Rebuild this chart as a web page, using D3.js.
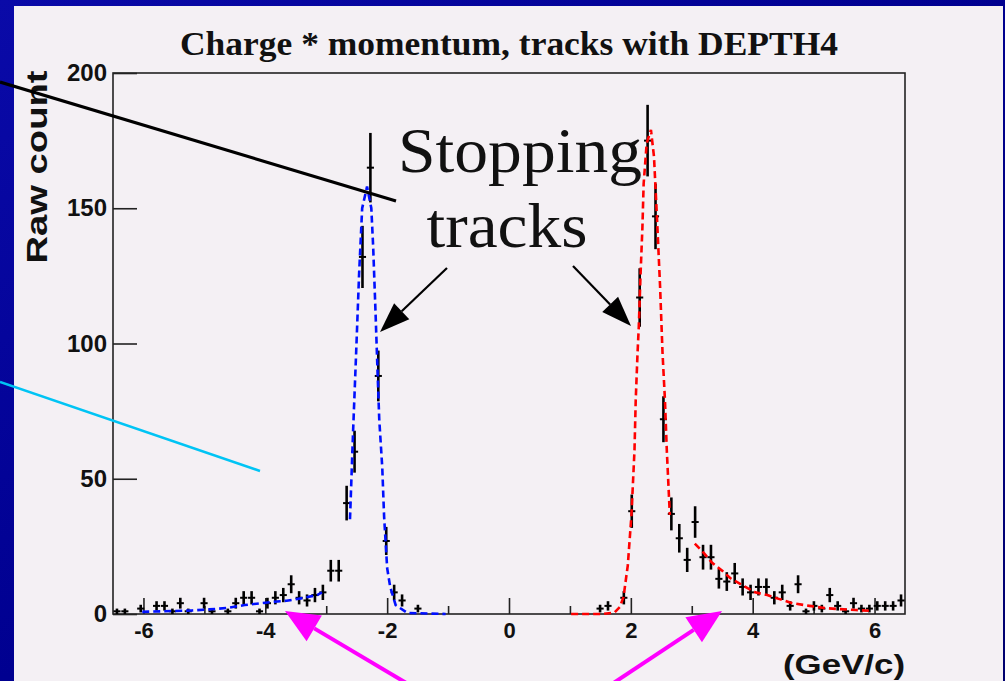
<!DOCTYPE html>
<html lang="en">
  <head>
    <meta charset="UTF-8" />
    <title>Charge * momentum, tracks with DEPTH4</title>
    <script src="https://cdn.jsdelivr.net/npm/d3@7"></script>
    <style>
      body { margin: 0; background: #00008c; }
      svg { display: block; }
      .tick line { stroke: #222; stroke-width: 1.6px; }
      .tick text { font-family: "Liberation Sans", Arial, sans-serif; font-weight: bold; fill: #111; }
      .fit { fill: none; stroke-width: 2.6px; stroke-dasharray: 7 4; }
    </style>
  </head>
  <body>
    <script>
      // histogram: 100 bins from -6.5 to 6.5 GeV/c, raw counts
      var histLo = -6.5,
          binWidth = 0.13;

      var counts = [
        1, 1, 0, 2, 0, 3, 3, 1, 4, 1,
        0, 4, 1, 0, 1, 4, 6, 6, 1, 4,
        6, 7, 11, 6, 5, 7, 8, 16, 16, 41,
        60, 132, 165, 88, 27, 8, 5, 0, 2, 0,
        0, 0, 0, 0, 0, 0, 0, 0, 0, 0,
        0, 0, 0, 0, 0, 0, 0, 0, 0, 0,
        0, 2, 3, 0, 6, 38, 117, 175, 147, 72,
        37, 28, 20, 34, 21, 21, 13, 12, 15, 10,
        8, 10, 10, 6, 8, 3, 11, 1, 3, 2,
        7, 3, 1, 4, 2, 2, 3, 3, 3, 5
      ];

      // fit curves, [momentum, count]
      var blueTail = [[-6.02, 0.8], [-5.2, 1.3], [-4.92, 1.7], [-4.64, 2.2], [-4.34, 3.3], [-4.06, 4.0],
                      [-3.81, 4.6], [-3.65, 4.9], [-3.38, 5.9], [-3.15, 7.0], [-3.07, 8.0]];
      var bluePeak = [[-2.61, 35], [-2.56, 67], [-2.51, 96], [-2.46, 126], [-2.41, 150], [-2.33, 158],
                      [-2.26, 150], [-2.23, 136], [-2.19, 111], [-2.16, 91], [-2.13, 72], [-2.08, 54],
                      [-2.05, 36], [-2.0, 17], [-1.95, 10], [-1.86, 3.3], [-1.67, 0.4], [-1.04, 0]];
      var redPeak = [[1.02, 0], [1.52, 0], [1.73, 0.5], [1.82, 2.6], [1.88, 6.3], [1.95, 18], [2.01, 36.6],
                     [2.06, 60.6], [2.08, 79], [2.11, 96.5], [2.13, 106], [2.16, 126], [2.19, 143], [2.21, 159],
                     [2.26, 174], [2.33, 179], [2.38, 169], [2.43, 146], [2.48, 121], [2.52, 96.5], [2.56, 79],
                     [2.59, 60.6], [2.64, 36.6]];
      var redTail = [[3.05, 26], [3.2, 22.5], [3.33, 19], [3.5, 16], [3.63, 13.3], [3.83, 10.7], [4.04, 8],
                     [4.24, 7], [4.44, 5.5], [4.65, 4], [4.93, 3], [5.18, 2.2], [5.43, 1.8], [5.69, 1.5], [5.97, 1.1]];

      var xMajor = [-6, -4, -2, 0, 2, 4, 6],
          xMinor = [-5, -3, -1, 1, 3, 5],
          yMajor = [0, 50, 100, 150, 200];

      var w = 1005, h = 681;
      var plotLeft = 113, plotRight = 905, plotTop = 73, plotBottom = 614;

      var svg = d3.select("body").append("svg")
        .attr("width", w)
        .attr("height", h);

      // slide background
      var defs = svg.append("defs");
      var grad = defs.append("linearGradient").attr("id", "slide")
        .attr("x1", "0%").attr("y1", "0%").attr("x2", "100%").attr("y2", "100%");
      grad.append("stop").attr("offset", "0%").attr("stop-color", "#0a0aa8");
      grad.append("stop").attr("offset", "50%").attr("stop-color", "#000090");
      grad.append("stop").attr("offset", "100%").attr("stop-color", "#00006e");

      svg.append("rect").attr("width", w).attr("height", h).attr("fill", "url(#slide)");
      svg.append("rect")
        .attr("x", 14).attr("y", 6)
        .attr("width", 989).attr("height", h - 6)
        .attr("fill", "#f4f0f4");

      var xScale = d3.scaleLinear().domain([-6.5, 6.5]).range([plotLeft, plotRight]);
      var yScale = d3.scaleLinear().domain([0, 200]).range([plotBottom, plotTop]);

      // frame
      svg.append("rect")
        .attr("x", plotLeft).attr("y", plotTop)
        .attr("width", plotRight - plotLeft).attr("height", plotBottom - plotTop)
        .attr("fill", "none")
        .attr("stroke", "#222")
        .attr("stroke-width", 1.6);

      // axes
      var xAxis = d3.axisBottom(xScale)
        .tickValues(xMajor)
        .tickSize(-16)
        .tickPadding(8)
        .tickFormat(function(d) { return String(d); });

      var gx = svg.append("g")
        .attr("transform", "translate(0," + plotBottom + ")")
        .call(xAxis);
      gx.select(".domain").remove();
      gx.selectAll("text").style("font-size", "22px");

      var gxMinor = svg.append("g")
        .attr("transform", "translate(0," + plotBottom + ")")
        .call(d3.axisBottom(xScale).tickValues(xMinor).tickSize(-8).tickFormat(""));
      gxMinor.select(".domain").remove();

      var yAxis = d3.axisLeft(yScale)
        .tickValues(yMajor)
        .tickSize(-24)
        .tickPadding(6);

      var gy = svg.append("g")
        .attr("transform", "translate(" + plotLeft + ",0)")
        .call(yAxis);
      gy.select(".domain").remove();
      gy.selectAll("text").style("font-size", "24px");

      // histogram points with sqrt(N) error bars
      var bins = counts.map(function(c, i) {
        return { x: histLo + binWidth * (i + 0.5), c: c };
      }).filter(function(d) { return d.c > 0; });

      var pts = svg.append("g").attr("stroke", "#000");

      pts.selectAll("line.ev")
        .data(bins)
        .enter()
        .append("line")
        .attr("class", "ev")
        .attr("x1", function(d) { return xScale(d.x) })
        .attr("x2", function(d) { return xScale(d.x) })
        .attr("y1", function(d) { return yScale(Math.max(0, d.c - Math.sqrt(d.c))) })
        .attr("y2", function(d) { return yScale(d.c + Math.sqrt(d.c)) })
        .attr("stroke-width", 2.6);

      pts.selectAll("line.eh")
        .data(bins)
        .enter()
        .append("line")
        .attr("class", "eh")
        .attr("x1", function(d) { return xScale(d.x - binWidth * 0.45) })
        .attr("x2", function(d) { return xScale(d.x + binWidth * 0.45) })
        .attr("y1", function(d) { return yScale(d.c) })
        .attr("y2", function(d) { return yScale(d.c) })
        .attr("stroke-width", 2);

      // fits
      var line = d3.line()
        .x(function(d) { return xScale(d[0]) })
        .y(function(d) { return yScale(d[1]) });

      [[blueTail, "#0010ff"], [bluePeak, "#0010ff"], [redPeak, "#ff0000"], [redTail, "#ff0000"]]
        .forEach(function(f) {
          svg.append("path")
            .attr("class", "fit")
            .attr("d", line(f[0]))
            .attr("stroke", f[1]);
        });

      // titles
      svg.append("text")
        .attr("x", 509).attr("y", 55)
        .attr("text-anchor", "middle")
        .attr("textLength", 658)
        .attr("lengthAdjust", "spacingAndGlyphs")
        .style("font-family", "'Liberation Serif', 'Times New Roman', serif")
        .style("font-weight", "bold")
        .style("font-size", "34px")
        .style("fill", "#111")
        .text("Charge * momentum, tracks with DEPTH4");

      svg.append("text")
        .attr("transform", "translate(47,167) rotate(-90)")
        .attr("text-anchor", "middle")
        .attr("textLength", 193)
        .attr("lengthAdjust", "spacingAndGlyphs")
        .style("font-family", "'Liberation Sans', Arial, sans-serif")
        .style("font-weight", "bold")
        .style("font-size", "30px")
        .style("fill", "#111")
        .text("Raw count");

      svg.append("text")
        .attr("x", 905).attr("y", 674)
        .attr("text-anchor", "end")
        .attr("textLength", 122)
        .attr("lengthAdjust", "spacingAndGlyphs")
        .style("font-family", "'Liberation Sans', Arial, sans-serif")
        .style("font-weight", "bold")
        .style("font-size", "28px")
        .style("fill", "#111")
        .text("(GeV/c)");

      // annotations
      svg.append("line")
        .attr("x1", 0).attr("y1", 82).attr("x2", 396).attr("y2", 201)
        .attr("stroke", "#000").attr("stroke-width", 3.2);

      svg.append("line")
        .attr("x1", 0).attr("y1", 382).attr("x2", 260).attr("y2", 471)
        .attr("stroke", "#00c4f4").attr("stroke-width", 2.6);

      var note = svg.append("g")
        .style("font-family", "'Liberation Serif', 'Times New Roman', serif")
        .style("font-size", "64px")
        .style("fill", "#111");
      note.append("text").attr("x", 520).attr("y", 172).attr("text-anchor", "middle")
        .attr("textLength", 244).attr("lengthAdjust", "spacingAndGlyphs").text("Stopping");
      note.append("text").attr("x", 507).attr("y", 247).attr("text-anchor", "middle")
        .attr("textLength", 161).attr("lengthAdjust", "spacingAndGlyphs").text("tracks");

      function arrow(x1, y1, x2, y2, color, lw, hl, hw) {
        var a = Math.atan2(y2 - y1, x2 - x1);
        var bx = x2 - hl * Math.cos(a), by = y2 - hl * Math.sin(a);
        svg.append("line")
          .attr("x1", x1).attr("y1", y1).attr("x2", bx).attr("y2", by)
          .attr("stroke", color).attr("stroke-width", lw);
        var px = -Math.sin(a) * hw / 2, py = Math.cos(a) * hw / 2;
        svg.append("path")
          .attr("d", "M" + x2 + "," + y2 + "L" + (bx + px) + "," + (by + py) + "L" + (bx - px) + "," + (by - py) + "Z")
          .attr("fill", color);
      }

      arrow(447, 268, 380, 332, "#000", 2.2, 30, 22);
      arrow(573, 266, 631, 326, "#000", 2.2, 30, 22);
      arrow(408, 684, 285, 611, "#ff00ff", 4, 34, 30);
      arrow(612, 684, 722, 611, "#ff00ff", 4, 34, 30);
    </script>
  </body>
</html>
